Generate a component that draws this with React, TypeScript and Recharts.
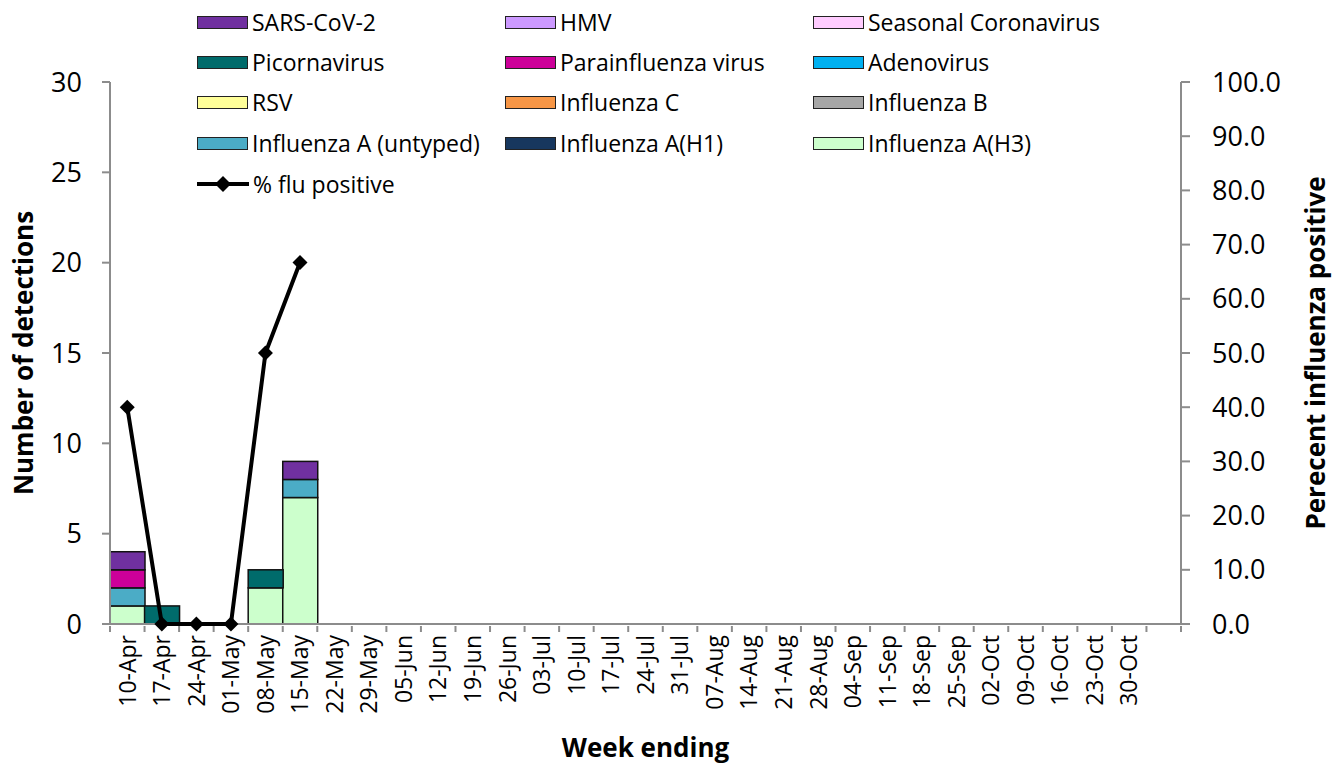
import React from 'react';
import { ComposedChart, Bar, Line, XAxis, YAxis, Label, ReferenceLine } from 'recharts';

const weeks = [
  '10-Apr', '17-Apr', '24-Apr', '01-May', '08-May', '15-May', '22-May', '29-May',
  '05-Jun', '12-Jun', '19-Jun', '26-Jun', '03-Jul', '10-Jul', '17-Jul', '24-Jul',
  '31-Jul', '07-Aug', '14-Aug', '21-Aug', '28-Aug', '04-Sep', '11-Sep', '18-Sep',
  '25-Sep', '02-Oct', '09-Oct', '16-Oct', '23-Oct', '30-Oct', '',
];

// detections per week (only the first six weeks have data)
const h3 = [1, 0, 0, 0, 2, 7];
const h1 = [0, 0, 0, 0, 0, 0];
const aUntyped = [1, 0, 0, 0, 0, 1];
const fluB = [0, 0, 0, 0, 0, 0];
const fluC = [0, 0, 0, 0, 0, 0];
const rsv = [0, 0, 0, 0, 0, 0];
const adeno = [0, 0, 0, 0, 0, 0];
const parainfluenza = [1, 0, 0, 0, 0, 0];
const picorna = [0, 1, 0, 0, 1, 0];
const seasonalCorona = [0, 0, 0, 0, 0, 0];
const hmv = [0, 0, 0, 0, 0, 0];
const sarsCov2 = [1, 0, 0, 0, 0, 1];
const fluPositive = [40, 0, 0, 0, 50, 66.7];

const leftTicks = [0, 5, 10, 15, 20, 25, 30];
const rightTicks = [0, 10, 20, 30, 40, 50, 60, 70, 80, 90, 100];

// stacking order, bottom first
const series = [
  { key: 'h3', name: 'Influenza A(H3)', color: '#CCFFCC', values: h3 },
  { key: 'h1', name: 'Influenza A(H1)', color: '#17375E', values: h1 },
  { key: 'aUntyped', name: 'Influenza A (untyped)', color: '#4BACC6', values: aUntyped },
  { key: 'fluB', name: 'Influenza B', color: '#A6A6A6', values: fluB },
  { key: 'fluC', name: 'Influenza C', color: '#F79646', values: fluC },
  { key: 'rsv', name: 'RSV', color: '#FFFF99', values: rsv },
  { key: 'adeno', name: 'Adenovirus', color: '#00B0F0', values: adeno },
  { key: 'parainfluenza', name: 'Parainfluenza virus', color: '#CC0099', values: parainfluenza },
  { key: 'picorna', name: 'Picornavirus', color: '#006B6B', values: picorna },
  { key: 'seasonalCorona', name: 'Seasonal Coronavirus', color: '#FFCCFF', values: seasonalCorona },
  { key: 'hmv', name: 'HMV', color: '#CC99FF', values: hmv },
  { key: 'sarsCov2', name: 'SARS-CoV-2', color: '#7030A0', values: sarsCov2 },
];

// legend grid as Excel lays it out (row by row)
const legendRows = [
  ['sarsCov2', 'hmv', 'seasonalCorona'],
  ['picorna', 'parainfluenza', 'adeno'],
  ['rsv', 'fluC', 'fluB'],
  ['aUntyped', 'h1', 'h3'],
];

const data = weeks.map((week, i) => {
  const row: any = { week, fluPct: fluPositive[i] ?? null };
  series.forEach((s) => {
    row[s.key] = s.values[i];
  });
  return row;
});

const W = 1342;
const H = 767;
const PLOT_LEFT = 110;
const PLOT_RIGHT = 1181;
const PLOT_TOP = 82;
const PLOT_BOTTOM = 624;
const AXIS = '#8c8c8c';
const FONT = '"Open Sans", sans-serif';

const WeekTick = (props: any) => {
  const { x, payload, index } = props;
  const band = (PLOT_RIGHT - PLOT_LEFT) / weeks.length;
  const ty = PLOT_BOTTOM + 11;
  return (
    <g>
      <line x1={x - band / 2} x2={x - band / 2} y1={PLOT_BOTTOM + 2} y2={PLOT_BOTTOM + 8} stroke={AXIS} strokeWidth={2} />
      {index === weeks.length - 1 && (
        <line x1={x + band / 2} x2={x + band / 2} y1={PLOT_BOTTOM + 2} y2={PLOT_BOTTOM + 8} stroke={AXIS} strokeWidth={2} />
      )}
      <text
        x={x}
        y={ty}
        dy="0.36em"
        textAnchor="end"
        transform={`rotate(-90 ${x} ${ty})`}
        fontSize={23}
        fill="#000"
      >
        {payload.value}
      </text>
    </g>
  );
};

// skip empty segments so no stray outline is drawn
const SegmentShape = (props: any) => {
  const { x, y, width, height, fill } = props;
  if (!height || Math.abs(height) < 0.5) return null;
  return <rect x={x} y={y} width={width} height={height} fill={fill} stroke="#111" strokeWidth={1.5} />;
};

const Diamond = (props: any) => {
  const { cx, cy, value } = props;
  if (value == null || cx == null || cy == null) return null;
  const r = 7.5;
  return <polygon points={`${cx},${cy - r} ${cx + r},${cy} ${cx},${cy + r} ${cx - r},${cy}`} fill="#000" />;
};

const LegendOverlay = () => {
  const colX = [197, 505, 813];
  const rowY = [22, 62, 102, 143, 184];
  const byKey: any = {};
  series.forEach((s) => (byKey[s.key] = s));
  const item = (left: number, top: number, swatch: React.ReactNode, label: string, k: string) => (
    <div
      key={k}
      style={{ position: 'absolute', left, top: top - 16, height: 32, display: 'flex', alignItems: 'center', whiteSpace: 'nowrap' }}
    >
      {swatch}
      <span style={{ fontSize: 23, marginLeft: 4, color: '#000' }}>{label}</span>
    </div>
  );
  return (
    <div style={{ position: 'absolute', left: 0, top: 0, pointerEvents: 'none' }}>
      {legendRows.map((row, r) =>
        row.map((key, c) => {
          const s = byKey[key];
          return item(
            colX[c],
            rowY[r],
            <div style={{ width: 49, height: 11, background: s.color, border: '1.5px solid #222' }} />,
            s.name,
            key
          );
        })
      )}
      {item(
        colX[0],
        rowY[4],
        <svg width={52} height={16}>
          <line x1={0} x2={52} y1={8} y2={8} stroke="#000" strokeWidth={4} />
          <polygon points="26,0 34,8 26,16 18,8" fill="#000" />
        </svg>,
        '% flu positive',
        'flu'
      )}
    </div>
  );
};

export default function App() {
  return (
    <div style={{ position: 'absolute', left: 0, top: 0, width: W, height: H, background: '#fff', fontFamily: FONT }}>
      <ComposedChart
        width={W}
        height={H}
        data={data}
        margin={{ top: PLOT_TOP, right: 0, bottom: 0, left: 0 }}
        barCategoryGap={0}
        barGap={0}
      >
        <XAxis
          dataKey="week"
          interval={0}
          height={H - PLOT_BOTTOM}
          tickLine={false}
          axisLine={false}
          tick={<WeekTick />}
        >
          <Label
            content={() => (
              <text x={(PLOT_LEFT + PLOT_RIGHT) / 2} y={757} textAnchor="middle" fontSize={26} fontWeight="bold" fill="#000">
                Week ending
              </text>
            )}
          />
        </XAxis>
        <YAxis
          yAxisId="left"
          orientation="left"
          width={PLOT_LEFT}
          domain={[0, 30]}
          ticks={leftTicks}
          interval={0}
          tickSize={8}
          tickMargin={20}
          axisLine={{ stroke: AXIS, strokeWidth: 2 }}
          tickLine={{ stroke: AXIS, strokeWidth: 2 }}
          tick={{ fill: '#000', fontSize: 27 }}
        >
          <Label
            content={() => {
              const cx = 24;
              const cy = (PLOT_TOP + PLOT_BOTTOM) / 2;
              return (
                <text x={cx} y={cy} dy="0.36em" textAnchor="middle" transform={`rotate(-90 ${cx} ${cy})`} fontSize={26} fontWeight="bold" fill="#000">
                  Number of detections
                </text>
              );
            }}
          />
        </YAxis>
        <YAxis
          yAxisId="right"
          orientation="right"
          width={W - PLOT_RIGHT}
          domain={[0, 100]}
          ticks={rightTicks}
          interval={0}
          tickFormatter={(v: number) => v.toFixed(1)}
          tickSize={9}
          tickMargin={22}
          axisLine={{ stroke: AXIS, strokeWidth: 2 }}
          tickLine={{ stroke: AXIS, strokeWidth: 2 }}
          tick={{ fill: '#000', fontSize: 27, textAnchor: 'start' }}
        >
          <Label
            content={() => {
              const cx = 1316;
              const cy = (PLOT_TOP + PLOT_BOTTOM) / 2;
              return (
                <text x={cx} y={cy} dy="0.36em" textAnchor="middle" transform={`rotate(-90 ${cx} ${cy})`} fontSize={26} fontWeight="bold" fill="#000">
                  Perecent influenza positive
                </text>
              );
            }}
          />
        </YAxis>
        <ReferenceLine y={0} yAxisId="left" stroke={AXIS} strokeWidth={2} />
        {series.map((s) => (
          <Bar
            key={s.key}
            dataKey={s.key}
            name={s.name}
            yAxisId="left"
            stackId="a"
            fill={s.color}
            shape={<SegmentShape />}
            isAnimationActive={false}
          />
        ))}
        <Line
          dataKey="fluPct"
          name="% flu positive"
          yAxisId="right"
          type="linear"
          stroke="#000"
          strokeWidth={4}
          dot={<Diamond />}
          activeDot={false}
          connectNulls={false}
          isAnimationActive={false}
        />
      </ComposedChart>
      <LegendOverlay />
    </div>
  );
}
